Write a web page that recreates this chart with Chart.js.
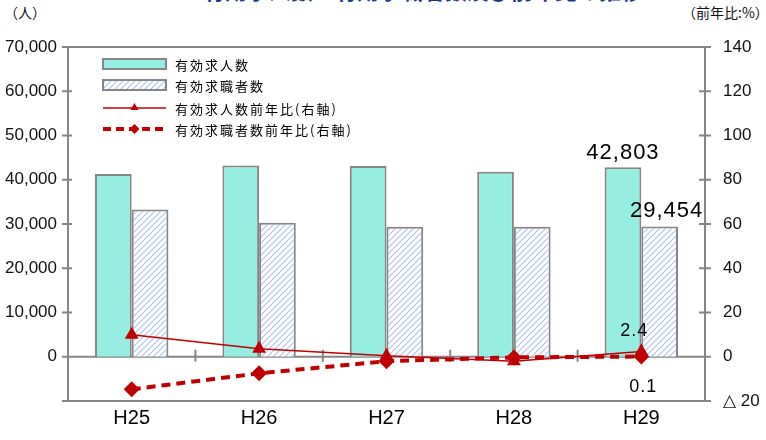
<!DOCTYPE html>
<html>
<head>
<meta charset="utf-8">
<script src="https://cdn.jsdelivr.net/npm/chart.js@4/dist/chart.umd.min.js"></script>
<style>
  body { margin: 0; background: #fff; overflow: hidden; }
  #wrap { position: relative; width: 766px; height: 440px; overflow: hidden; }
  #title { position: absolute; left: 203px; top: -27px; line-height: 22px; font: bold 22px "Noto Sans CJK JP"; color: #1c3a8c; white-space: nowrap; }
  .unit { position: absolute; top: 3px; font: 14px "Noto Sans CJK JP"; color: #111; line-height: 18px; }
  canvas { position: absolute; left: 0; top: 0; }
</style>
</head>
<body>
<div id="wrap">
  <div id="title">有効求人数・有効求職者数及び前年比の推移</div>
  <div class="unit" style="left:4px">（人）</div>
  <div class="unit" style="left:682px">（前年比:%）</div>
  <canvas id="c" width="766" height="440"></canvas>
</div>
<script>
/* data */
const years = ["H25", "H26", "H27", "H28", "H29"];
const jobOffers = [41300, 43200, 43100, 41800, 42803];      // 有効求人数
const jobSeekers = [33300, 30300, 29400, 29400, 29454];     // 有効求職者数
const offersYoY = [9.9, 3.6, 0.5, -2.0, 2.4];               // 有効求人数前年比
const seekersYoY = [-14.7, -7.5, -2.0, -0.3, 0.1];          // 有効求職者数前年比

const leftMin = -10000, leftMax = 70000, leftStep = 10000;
const rightMin = -20, rightMax = 140, rightStep = 20;

const names = ["有効求人数", "有効求職者数", "有効求人数前年比(右軸)", "有効求職者数前年比(右軸)"];

const CYAN = "rgb(150,238,226)";
const GREY = "#868686";
const RED = "#c00000";

const canvas = document.getElementById("c");
const ctx0 = canvas.getContext("2d");

/* hatched fill for 有効求職者数 */
function makeHatch() {
    const c = document.createElement("canvas");
    c.width = c.height = 6;
    const g = c.getContext("2d");
    g.fillStyle = "#fff";
    g.fillRect(0, 0, 6, 6);
    g.strokeStyle = "#adc4ea";
    g.lineWidth = 1.1;
    g.beginPath();
    g.moveTo(0, 6); g.lineTo(6, 0);
    g.moveTo(-3, 3); g.lineTo(3, -3);
    g.moveTo(3, 9); g.lineTo(9, 3);
    g.stroke();
    return ctx0.createPattern(c, "repeat");
}
const hatch = makeHatch();

/* frame, zero line, tick marks */
const framePlugin = {
    id: "frame",
    beforeDatasetsDraw(chart) {
        const { ctx, chartArea: a, scales } = chart;
        ctx.save();
        ctx.strokeStyle = GREY;
        ctx.lineWidth = 2;
        ctx.strokeRect(a.left, a.top, a.right - a.left, a.bottom - a.top);

        const y0 = scales.y.getPixelForValue(0);
        ctx.beginPath();
        ctx.moveTo(a.left, y0); ctx.lineTo(a.right, y0);
        // left ticks
        for (let v = leftMin; v <= leftMax; v += leftStep) {
            const y = scales.y.getPixelForValue(v);
            ctx.moveTo(a.left - 6, y); ctx.lineTo(a.left + 4, y);
        }
        // right ticks
        for (let v = rightMin; v <= rightMax; v += rightStep) {
            const y = scales.y1.getPixelForValue(v);
            ctx.moveTo(a.right - 6, y); ctx.lineTo(a.right + 6, y);
        }
        // category boundaries on the zero line
        for (let i = 0; i < years.length - 1; i++) {
            const x = (scales.x.getPixelForValue(i) + scales.x.getPixelForValue(i + 1)) / 2;
            ctx.moveTo(x, y0 - 7); ctx.lineTo(x, y0 + 5);
        }
        ctx.stroke();
        ctx.restore();
    }
};

/* value labels + legend */
const notes = [
    { ds: 0, i: 4, text: jobOffers[4].toLocaleString(), dx: 0, dy: -8, size: 22 },
    { ds: 1, i: 4, text: jobSeekers[4].toLocaleString(), dx: 7, dy: -9, size: 22 },
    { ds: 2, i: 4, text: offersYoY[4].toFixed(1), dx: -7, dy: -15, size: 18 },
    { ds: 3, i: 4, text: seekersYoY[4].toFixed(1), dx: 2, dy: 35, size: 18 }
];

const extrasPlugin = {
    id: "extras",
    afterDatasetsDraw(chart) {
        const ctx = chart.ctx;
        ctx.save();
        ctx.fillStyle = "#000";
        ctx.textAlign = "center";
        ctx.textBaseline = "alphabetic";
        notes.forEach(n => {
            const el = chart.getDatasetMeta(n.ds).data[n.i];
            ctx.font = n.size + 'px "Liberation Sans"';
            ctx.letterSpacing = "1px";
            ctx.fillText(n.text, el.x + n.dx, el.y + n.dy);
        });

        // legend
        const lx = 103, lw = 63, tx = 175;
        const rows = [64, 85, 108, 129];
        ctx.letterSpacing = "0px";
        ctx.lineWidth = 2;
        ctx.strokeStyle = GREY;
        ctx.fillStyle = CYAN;
        ctx.fillRect(lx, rows[0] - 5, lw, 10);
        ctx.strokeRect(lx, rows[0] - 5, lw, 10);
        ctx.fillStyle = hatch;
        ctx.fillRect(lx, rows[1] - 5, lw, 10);
        ctx.strokeRect(lx, rows[1] - 5, lw, 10);

        ctx.strokeStyle = RED;
        ctx.fillStyle = RED;
        ctx.lineWidth = 1.5;
        ctx.beginPath();
        ctx.moveTo(lx, rows[2]); ctx.lineTo(lx + lw, rows[2]);
        ctx.stroke();
        const cx = lx + lw / 2;
        ctx.beginPath();
        ctx.moveTo(cx, rows[2] - 5); ctx.lineTo(cx + 4, rows[2] + 2); ctx.lineTo(cx - 4, rows[2] + 2);
        ctx.closePath(); ctx.fill();

        ctx.lineWidth = 4;
        ctx.setLineDash([8, 5]);
        ctx.beginPath();
        ctx.moveTo(lx, rows[3]); ctx.lineTo(lx + lw, rows[3]);
        ctx.stroke();
        ctx.setLineDash([]);
        ctx.beginPath();
        ctx.moveTo(cx, rows[3] - 5); ctx.lineTo(cx + 5, rows[3]); ctx.lineTo(cx, rows[3] + 5); ctx.lineTo(cx - 5, rows[3]);
        ctx.closePath(); ctx.fill();

        ctx.fillStyle = "#000";
        ctx.textAlign = "left";
        ctx.textBaseline = "middle";
        ctx.font = '13px "Noto Sans CJK JP"';
        ctx.letterSpacing = "2px";
        names.forEach((t, k) => ctx.fillText(t, tx, rows[k] + 1));
        ctx.restore();
    }
};

new Chart(canvas, {
    data: {
        labels: years,
        datasets: [
            {
                type: "bar", label: names[0], data: jobOffers, yAxisID: "y", order: 2,
                backgroundColor: CYAN, borderColor: GREY, borderWidth: 2,
                categoryPercentage: 0.576, barPercentage: 1.0
            },
            {
                type: "bar", label: names[1], data: jobSeekers, yAxisID: "y", order: 2,
                backgroundColor: hatch, borderColor: GREY, borderWidth: 2,
                categoryPercentage: 0.576, barPercentage: 1.0
            },
            {
                type: "line", label: names[2], data: offersYoY, yAxisID: "y1", order: 0,
                borderColor: RED, backgroundColor: RED, borderWidth: 1.5,
                pointStyle: "triangle", pointRadius: 8, pointBorderWidth: 0, tension: 0
            },
            {
                type: "line", label: names[3], data: seekersYoY, yAxisID: "y1", order: 1,
                borderColor: RED, backgroundColor: RED, borderWidth: 4, borderDash: [9, 6],
                pointStyle: "rectRot", pointRadius: 8, pointBorderWidth: 0, tension: 0
            }
        ]
    },
    options: {
        responsive: false,
        animation: false,
        layout: { padding: { top: 47, left: 0, right: 0, bottom: 0 } },
        plugins: { legend: { display: false }, tooltip: { enabled: false } },
        scales: {
            x: {
                offset: true,
                grid: { display: false, drawTicks: false },
                border: { display: false },
                ticks: {
                    padding: 5, color: "#000",
                    font: { family: '"Liberation Sans Narrow", "Liberation Sans"', size: 20 }
                },
                afterFit: s => { s.height = 39; }
            },
            y: {
                position: "left",
                min: leftMin, max: leftMax,
                grid: { display: false, drawTicks: false },
                border: { display: false },
                ticks: {
                    stepSize: leftStep, padding: 11, color: "#111",
                    font: { family: '"Liberation Sans"', size: 17 },
                    callback: v => v < 0 ? "" : v.toLocaleString()
                },
                afterFit: s => { s.width = 68; }
            },
            y1: {
                position: "right",
                min: rightMin, max: rightMax,
                grid: { display: false, drawTicks: false },
                border: { display: false },
                ticks: {
                    stepSize: rightStep, padding: 18, color: "#111",
                    font: { family: '"Liberation Sans"', size: 17 },
                    callback: v => v < 0 ? "△ " + (-v) : v
                },
                afterFit: s => { s.width = 61; }
            }
        }
    },
    plugins: [framePlugin, extrasPlugin]
});
</script>
</body>
</html>
